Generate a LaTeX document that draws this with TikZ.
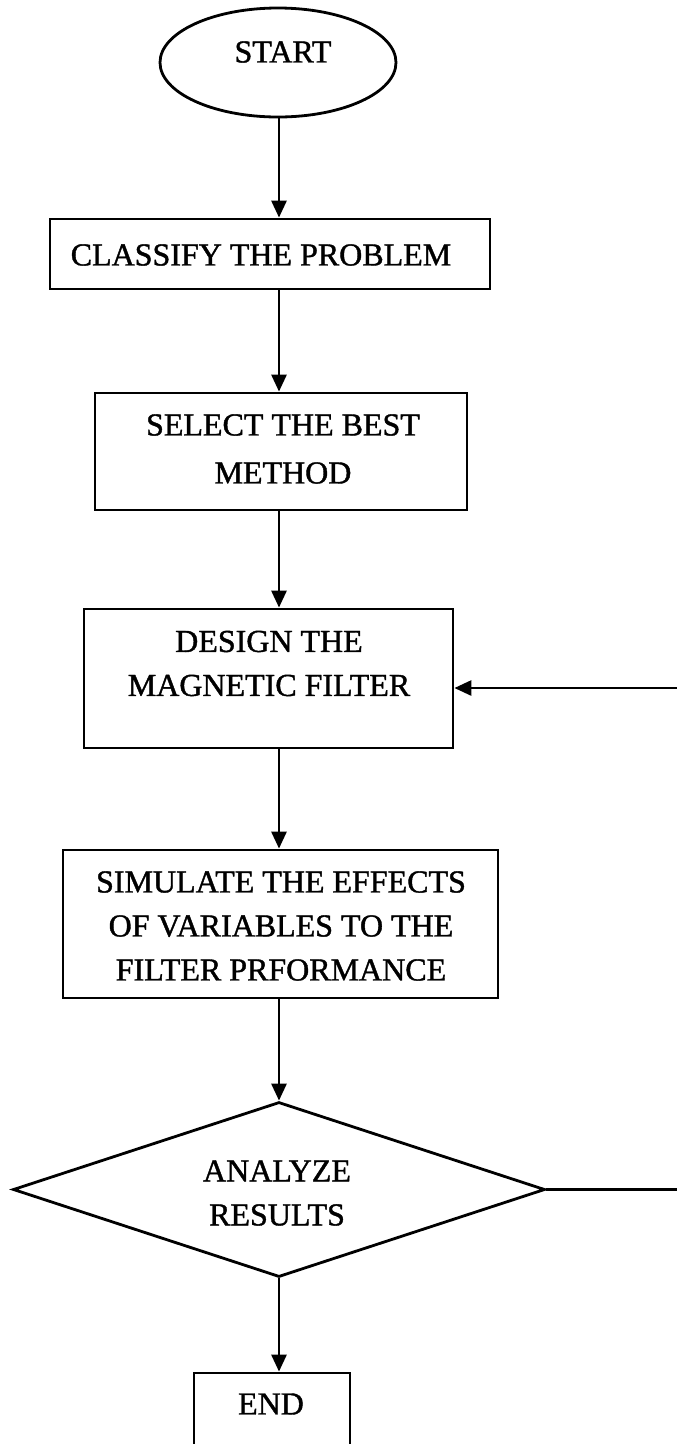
\documentclass[tikz,border=0pt]{standalone}
\usepackage{fontspec}
\setmainfont[FakeBold=1.2]{Liberation Serif}
\usetikzlibrary{shapes.geometric,arrows.meta}
\begin{document}
\begin{tikzpicture}[x=1pt,y=-1pt,
  outline/.style={draw=black,line width=2.8pt},
  stepbox/.style={outline,rectangle,inner sep=0pt},
  caption/.style={font=\fontsize{32}{44}\selectfont,align=center,inner sep=0pt},
  flow/.style={line width=2.8pt,-{Triangle[length=17pt,width=15pt]}},
  plain/.style={line width=2.8pt},
]
\useasboundingbox (0,0) rectangle (677,1444);
\clip (0,0) rectangle (677,1444);

% vertical axis shared by the straight-down arrows
\coordinate (spine) at (279,0);

% terminator
\node[outline,ellipse,minimum width=236pt,minimum height=109pt,inner sep=0pt] (start) at (278,62.5) {};
\node[caption] (starttxt) at (283,52) {START};

% process boxes
\node[stepbox,minimum width=440pt,minimum height=70pt] (classify) at (270,254) {};
\node[caption] (classifytxt) at (261,255) {CLASSIFY THE PROBLEM};

\node[stepbox,minimum width=372pt,minimum height=117pt] (select) at (281,451.5) {};
\node[caption] (selecttxt) at (283,449) {SELECT THE BEST\\[4pt]METHOD};

\node[stepbox,minimum width=369pt,minimum height=139pt] (design) at (268.5,678.5) {};
\node[caption] (designtxt) at (269,663.5) {DESIGN THE\\MAGNETIC FILTER};

\node[stepbox,minimum width=435pt,minimum height=148pt] (simulate) at (280.5,924) {};
\node[caption] (simulatetxt) at (281,926) {SIMULATE THE EFFECTS\\OF VARIABLES TO THE\\FILTER PRFORMANCE};

% decision
\node[outline,diamond,minimum width=532pt,minimum height=175pt,inner sep=0pt] (analyze) at (279,1189.5) {};
\node[caption] (analyzetxt) at (277,1193) {ANALYZE\\RESULTS};

% end box, running past the lower edge
\node[stepbox,minimum width=156pt,minimum height=110pt] (finish) at (272,1428) {};
\node[caption] (finishtxt) at (271,1404) {END};

% main flow
\draw[flow] (spine |- start.south) -- (spine |- classify.north);
\draw[flow] (spine |- classify.south) -- (spine |- select.north);
\draw[flow] (spine |- select.south) -- (spine |- design.north);
\draw[flow] (spine |- design.south) -- (spine |- simulate.north);
\draw[flow] (spine |- simulate.south) -- (analyze.north);
\draw[flow] (analyze.south) -- (analyze.south |- finish.north);

% feedback loop back to the design step
\coordinate (loop) at (700,0);
\coordinate (fbline) at (0,688);
\draw[plain] (analyze.east) -- (loop |- analyze.east) -- (loop |- fbline);
\draw[flow] (loop |- fbline) -- (design.east |- fbline);
\end{tikzpicture}
\end{document}
